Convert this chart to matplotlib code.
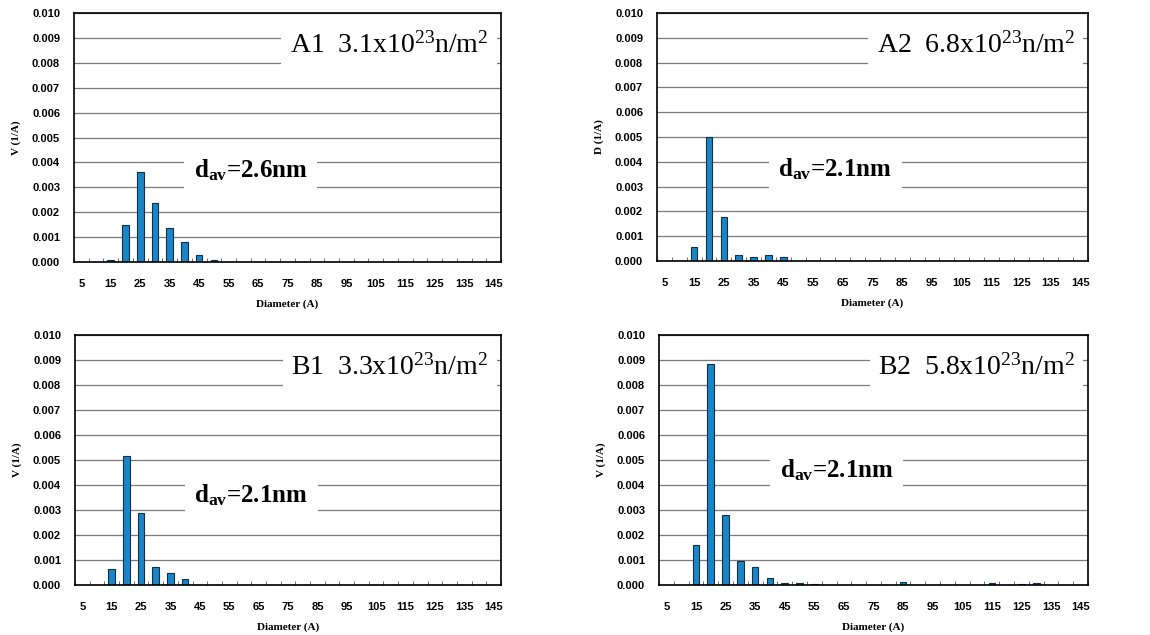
import numpy as np
import matplotlib.pyplot as plt

# diameter classes (A), one bar slot per class
diameters = list(range(5, 150, 5))

# values, keyed by diameter class
a1_vals = {15: 0.0001, 20: 0.0015, 25: 0.0036, 30: 0.00235, 35: 0.00135,
           40: 0.0008, 45: 0.0003, 50: 0.0001}
a2_vals = {15: 0.00055, 20: 0.0050, 25: 0.00178, 30: 0.00025, 35: 0.00018,
           40: 0.00025, 45: 0.00018}
b1_vals = {15: 0.00065, 20: 0.00515, 25: 0.0029, 30: 0.00073, 35: 0.0005,
           40: 0.00025}
b2_vals = {15: 0.0016, 20: 0.00885, 25: 0.0028, 30: 0.00098, 35: 0.00073,
           40: 0.0003, 45: 0.0001, 50: 0.0001, 55: 0.00005, 85: 0.00012,
           115: 0.0001, 125: 0.00005, 130: 0.0001}

titles = ['A1', 'A2', 'B1', 'B2']
fluences = ['3.1', '6.8', '3.3', '5.8']
dav = ['2.6', '2.1', '2.1', '2.1']
ylabels = ['V (1/A)', 'D (1/A)', 'V (1/A)', 'V (1/A)']
all_vals = [a1_vals, a2_vals, b1_vals, b2_vals]

plt.rcParams['mathtext.default'] = 'regular'
serif = 'Liberation Serif'
sans = 'Liberation Sans'

fig = plt.figure(figsize=(11.5, 6.35), dpi=100)
W, H = 1150, 635
# axes boxes in pixels: left, top, right, bottom
boxes = [(74, 13, 501, 262), (657, 13, 1088, 261),
         (75, 335, 501, 585), (659, 335, 1088, 585)]
dav_y = [0.0037, 0.0037, 0.0036, 0.0046]

x = np.arange(len(diameters))
for i, (l, t, r, b) in enumerate(boxes):
    ax = fig.add_axes([l / W, 1 - b / H, (r - l) / W, (b - t) / H])
    vals = all_vals[i]
    heights = [vals.get(d, 0.0) for d in diameters]
    ax.bar(x, heights, width=0.45, color='#1a86c8', edgecolor='#10304a',
           linewidth=0.8, zorder=3)
    ax.set_xlim(-0.5, len(diameters) - 0.5)
    ax.set_ylim(0, 0.010)
    ax.set_yticks(np.arange(0, 0.0101, 0.001))
    ax.set_yticklabels(['%.3f' % v for v in np.arange(0, 0.0101, 0.001)],
                       fontsize=8, fontweight='bold', family=sans)
    ax.set_xticks(x[::2])
    ax.set_xticklabels([str(d) for d in diameters[::2]], fontsize=8,
                       fontweight='bold', family=sans)
    ax.set_xticks(np.arange(-0.5, len(diameters), 1), minor=True)
    ax.tick_params(axis='x', which='major', length=0, pad=12)
    ax.tick_params(axis='x', which='minor', length=3, direction='in',
                   color='#555555')
    ax.tick_params(axis='y', length=0, pad=10)
    ax.grid(axis='y', color='#7a7a7a', linewidth=0.9, zorder=0)
    for s in ax.spines.values():
        s.set_linewidth(1.2)
        s.set_zorder(4)
    ax.set_xlabel('Diameter (A)', fontsize=8, fontweight='bold', family=serif,
                  labelpad=8)
    ax.set_ylabel(ylabels[i], fontsize=8, fontweight='bold', family=serif,
                  labelpad=8)

    ax.text(0.97, 0.87,
            titles[i] + '  ' + fluences[i] + 'x10$^{23}$n/m$^{2}$',
            transform=ax.transAxes, ha='right', va='center', fontsize=20,
            family=serif, zorder=5,
            bbox=dict(facecolor='white', edgecolor='none', pad=6))
    ax.text(11.5, dav_y[i], 'd$_{av}$=' + dav[i] + 'nm',
            ha='center', va='center', fontsize=18, fontweight='bold',
            family=serif, zorder=5,
            bbox=dict(facecolor='white', edgecolor='none', pad=7))

fig.savefig('out.png', dpi=100)
